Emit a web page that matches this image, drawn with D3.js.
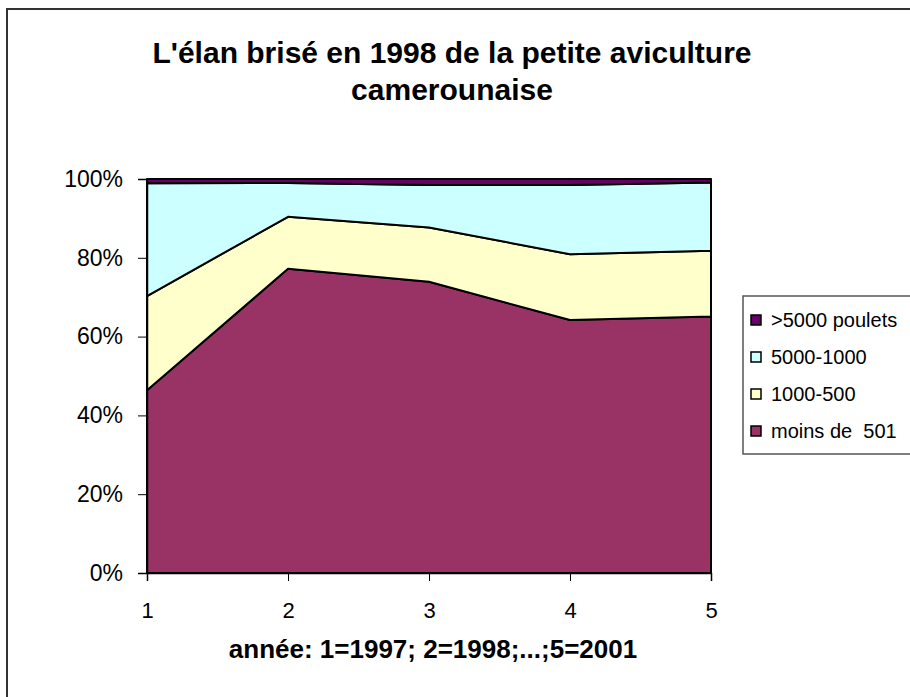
<!DOCTYPE html>
<html>
<head>
<meta charset="utf-8">
<script src="https://cdn.jsdelivr.net/npm/d3@7"></script>
<style>
  body { margin: 0; background: #fff; }
  svg { display: block; }
  text { font-family: "Liberation Sans", Arial, sans-serif; }
</style>
</head>
<body>
<div id="chart"></div>
<script>
// years 1..5 (1=1997 ... 5=2001)
var years = [1, 2, 3, 4, 5];
var seriesNames = ["moins de  501", "1000-500", "5000-1000", ">5000 poulets"];
var seriesColors = ["#993366", "#FFFFCC", "#CCFFFF", "#660066"];

// share of each size class (%)
var moins501 = [46.4, 77.2, 73.9, 64.2, 65.1];
var s1000_500 = [23.9, 13.2, 13.8, 16.7, 16.7];
var s5000_1000 = [28.6, 8.6, 10.8, 17.6, 17.3];
var plus5000 = [1.1, 1.0, 1.5, 1.5, 0.9];

var yTicks = [0, 20, 40, 60, 80, 100];

var w = 910, h = 697;
var svg = d3.select("#chart").append("svg").attr("width", w).attr("height", h);

// outer frame
svg.append("rect")
  .attr("x", 7).attr("y", 9)
  .attr("width", w + 10).attr("height", h + 10)
  .attr("fill", "#fff").attr("stroke", "#333").attr("stroke-width", 2);

svg.append("text").text("L'élan brisé en 1998 de la petite aviculture")
  .attr("x", 452).attr("y", 63).attr("text-anchor", "middle")
  .attr("font-size", 30).attr("font-weight", "bold");
svg.append("text").text("camerounaise")
  .attr("x", 452).attr("y", 100).attr("text-anchor", "middle")
  .attr("font-size", 30).attr("font-weight", "bold");

var x = d3.scaleLinear().domain([1, 5]).range([147, 711]);
var y = d3.scaleLinear().domain([0, 100]).range([573, 179]);

var table = years.map(function(yr, i) {
  return { year: yr, a: moins501[i], b: s1000_500[i], c: s5000_1000[i], d: plus5000[i] };
});
var stack = d3.stack().keys(["a", "b", "c", "d"]);
var layers = stack(table);

var area = d3.area()
  .x(function(d) { return x(d.data.year); })
  .y0(function(d) { return y(d[0]); })
  .y1(function(d) { return y(d[1]); });

svg.append("g").selectAll("path")
  .data(layers)
  .enter().append("path")
  .attr("d", area)
  .attr("fill", function(d, i) { return seriesColors[i]; })
  .attr("stroke", "#000")
  .attr("stroke-width", 2)
  .attr("stroke-linejoin", "round");

// axes
var yAxis = d3.axisLeft(y).tickValues(yTicks).tickSize(9).tickPadding(15)
  .tickFormat(function(d) { return d + "%"; });
var gy = svg.append("g").attr("transform", "translate(147,0)").call(yAxis);
gy.selectAll("text").attr("font-size", 23).attr("font-family", "Liberation Sans, Arial, sans-serif").attr("fill", "#000");
gy.selectAll("line").attr("stroke", "#000");
gy.select(".domain").attr("stroke", "#000").attr("stroke-width", 1.5);

var xAxis = d3.axisBottom(x).tickValues(years).tickSize(8).tickPadding(21)
  .tickFormat(d3.format("d"));
var gx = svg.append("g").attr("transform", "translate(0,573)").call(xAxis);
gx.selectAll("text").attr("font-size", 22).attr("font-family", "Liberation Sans, Arial, sans-serif").attr("fill", "#000");
gx.selectAll("line").attr("stroke", "#000");
gx.select(".domain").attr("stroke", "#000").attr("stroke-width", 1.5);

svg.append("text").text("année: 1=1997; 2=1998;...;5=2001")
  .attr("x", 433).attr("y", 658).attr("text-anchor", "middle")
  .attr("font-size", 26).attr("font-weight", "bold");

// legend
var legend = svg.append("g");
legend.append("rect")
  .attr("x", 743).attr("y", 296).attr("width", 200).attr("height", 158)
  .attr("fill", "#fff").attr("stroke", "#555").attr("stroke-width", 1.5);

var order = [3, 2, 1, 0];
order.forEach(function(si, row) {
  var cy = 320 + row * 37;
  legend.append("rect")
    .attr("x", 751).attr("y", cy - 5).attr("width", 10).attr("height", 10)
    .attr("fill", seriesColors[si]).attr("stroke", "#000").attr("stroke-width", 1.5);
  legend.append("text").text(seriesNames[si])
    .attr("x", 771).attr("y", cy + 7)
    .attr("font-size", 20).attr("xml:space", "preserve").style("white-space", "pre");
});
</script>
</body>
</html>
